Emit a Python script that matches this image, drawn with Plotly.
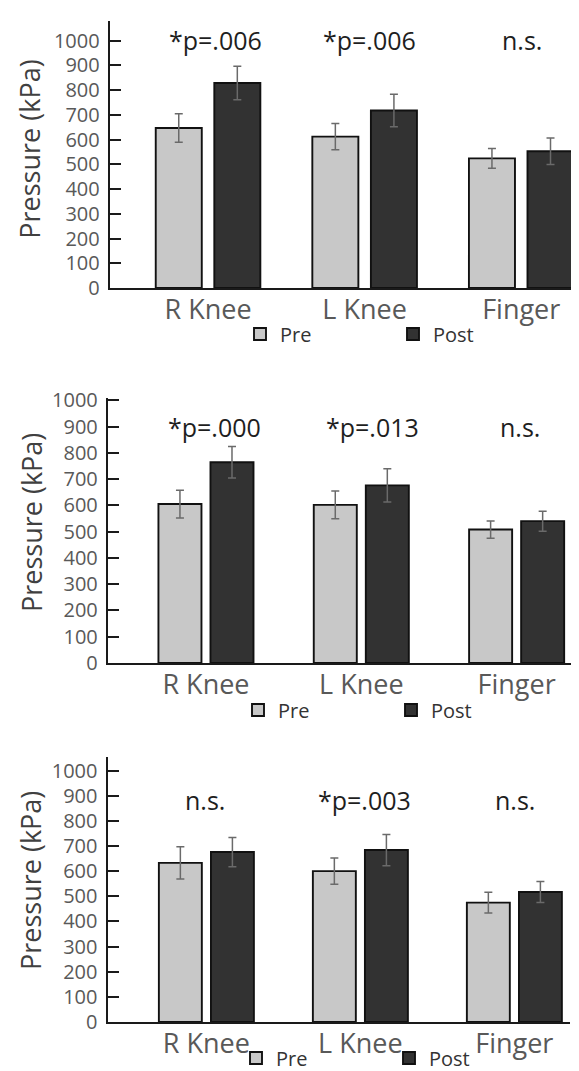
import plotly.graph_objects as go

# ---------------- data ----------------
categories = ["R Knee", "L Knee", "Finger"]
series_names = ["Pre", "Post"]
y_ticks = [0, 100, 200, 300, 400, 500, 600, 700, 800, 900, 1000]

pre_1 = [647, 612, 524]
pre_err_1 = [58, 53, 40]
post_1 = [829, 718, 553]
post_err_1 = [68, 66, 54]

pre_2 = [605, 602, 508]
pre_err_2 = [53, 53, 33]
post_2 = [764, 676, 540]
post_err_2 = [60, 63, 38]

pre_3 = [633, 600, 475]
pre_err_3 = [64, 52, 41]
post_3 = [676, 684, 517]
post_err_3 = [58, 62, 42]

sig_1 = ["*p=.006", "*p=.006", "n.s."]
sig_2 = ["*p=.000", "*p=.013", "n.s."]
sig_3 = ["n.s.", "*p=.003", "n.s."]

# ---------------- style / layout ----------------
W, H = 579, 1071
FONT = "Open Sans"
PRE_COLOR = "#c8c8c8"
POST_COLOR = "#323232"
OUTLINE = "#111111"
ERR_COLOR = "#6a6a6a"
TICK_COLOR = "#595959"
TITLE_COLOR = "#404040"

panels = [
    dict(pre=pre_1, pre_err=pre_err_1, post=post_1, post_err=post_err_1, sig=sig_1,
         xdom=[101.7 / W, 1.0], ydom=[1 - 280 / H, 1 - 13.3 / H],
         yrange=[0, 1078.5], xrange=[-0.628, 2.420],
         bw=0.294, off=(-0.334, 0.040),
         sig_dx=[0.048, 0.028, 0.005], sig_y=1003,
         title_xy=(22, 141.7), leg_xy=(252, 326)),
    dict(pre=pre_2, pre_err=pre_err_2, post=post_2, post_err=post_err_2, sig=sig_2,
         xdom=[99.8 / W, 1.0], ydom=[1 - 655 / H, 1 - 390 / H],
         yrange=[0, 1008.8], xrange=[-0.632, 2.453],
         bw=0.277, off=(-0.306, 0.029),
         sig_dx=[0.052, 0.069, 0.022], sig_y=898,
         title_xy=(23, 515), leg_xy=(250, 702)),
    dict(pre=pre_3, pre_err=pre_err_3, post=post_3, post_err=post_err_3, sig=sig_3,
         xdom=[99.5 / W, 562.2 / W], ydom=[1 - 1014 / H, 1 - 749.3 / H],
         yrange=[0, 1053], xrange=[-0.6416, 2.363],
         bw=0.279, off=(-0.308, 0.030),
         sig_dx=[-0.008, 0.029, 0.005], sig_y=884,
         title_xy=(22.5, 872.5), leg_xy=(248, 1050)),
]

fig = go.Figure()
xs = list(range(len(categories)))
annotations = []

for i, p in enumerate(panels, start=1):
    suffix = "" if i == 1 else str(i)
    xa, ya = "x" + suffix, "y" + suffix
    leg = "legend" + suffix
    for name, vals, errs, color, off in [
        (series_names[0], p["pre"], p["pre_err"], PRE_COLOR, p["off"][0]),
        (series_names[1], p["post"], p["post_err"], POST_COLOR, p["off"][1]),
    ]:
        fig.add_trace(go.Bar(
            x=xs, y=vals, name=name, xaxis=xa, yaxis=ya, legend=leg,
            width=p["bw"], offset=off,
            marker=dict(color=color, line=dict(color=OUTLINE, width=1.9)),
            error_y=dict(type="data", array=errs, visible=True,
                         color=ERR_COLOR, thickness=1.5, width=4),
            showlegend=True, hoverinfo="skip",
        ))

    fig.update_layout(**{
        "xaxis" + suffix: dict(
            domain=p["xdom"], anchor=ya, range=p["xrange"],
            tickmode="array", tickvals=xs, ticktext=categories,
            showline=True, linecolor="#1a1a1a", linewidth=2,
            ticks="", showgrid=False, zeroline=False,
            tickfont=dict(family=FONT, size=27, color=TICK_COLOR),
            ticklabelstandoff=-3, fixedrange=True,
        ),
        "yaxis" + suffix: dict(
            domain=p["ydom"], anchor=xa, range=p["yrange"],
            tickmode="array", tickvals=y_ticks,
            showline=True, linecolor="#1a1a1a", linewidth=2,
            ticks="inside", ticklen=11, tickwidth=1.5, tickcolor="#1a1a1a",
            showgrid=False, zeroline=False,
            tickfont=dict(family=FONT, size=20, color=TICK_COLOR),
            ticklabelstandoff=4, fixedrange=True,
        ),
        leg: dict(
            orientation="h", xref="paper", yref="paper",
            x=(p["leg_xy"][0] - 20) / W, xanchor="left",
            y=1 - p["leg_xy"][1] / H, yanchor="middle",
            entrywidth=108, entrywidthmode="pixels",
            font=dict(family=FONT, size=20, color="#333333"),
            bgcolor="rgba(0,0,0,0)", borderwidth=0,
            traceorder="normal", itemclick=False, itemdoubleclick=False,
        ),
    })

    for j, txt in enumerate(p["sig"]):
        annotations.append(dict(
            x=xs[j] + p["sig_dx"][j], y=p["sig_y"], xref=xa, yref=ya,
            text=txt, showarrow=False, xanchor="center", yanchor="middle",
            font=dict(family=FONT, size=25, color="#1e1e1e"),
        ))

    annotations.append(dict(
        x=p["title_xy"][0] / W, y=1 - p["title_xy"][1] / H,
        xref="paper", yref="paper", text="Pressure (kPa)", textangle=-90,
        showarrow=False, xanchor="center", yanchor="middle",
        font=dict(family=FONT, size=27, color=TITLE_COLOR),
    ))

fig.update_layout(
    width=W, height=H,
    margin=dict(l=0, r=0, t=0, b=0, autoexpand=False),
    paper_bgcolor="white", plot_bgcolor="white",
    barmode="overlay",
    annotations=annotations,
    font=dict(family=FONT),
)

fig.write_html("out.html")
